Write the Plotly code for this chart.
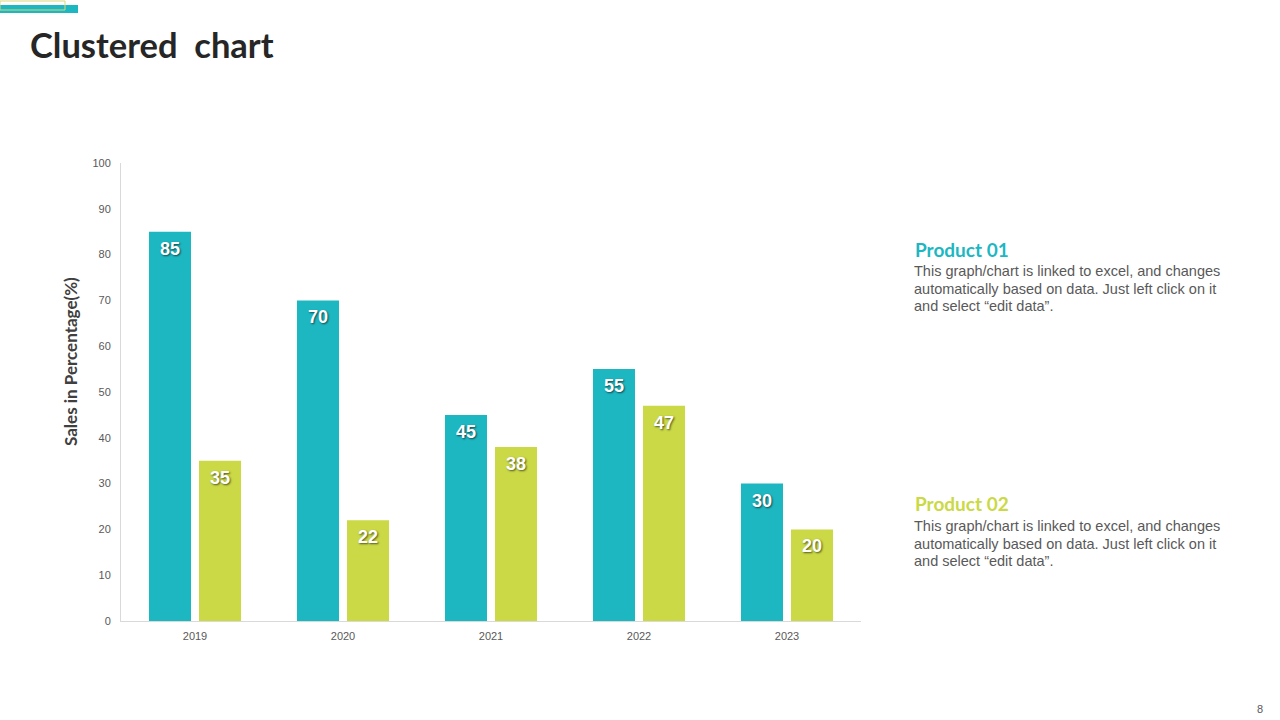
import plotly.graph_objects as go

years = ["2019", "2020", "2021", "2022", "2023"]
product_01 = [85, 70, 45, 55, 30]
product_02 = [35, 22, 38, 47, 20]
y_ticks = [0, 10, 20, 30, 40, 50, 60, 70, 80, 90, 100]
body_lines = ["This graph/chart is linked to excel, and changes",
              "automatically based on data. Just left click on it",
              "and select “edit data”."]

TEAL = "#1DB7C2"
LIME = "#CAD945"

L, R, T, B = 121, 861, 163, 621
W, H = 1280, 720

fig = go.Figure()
for name, vals, col in [("Product 01", product_01, TEAL), ("Product 02", product_02, LIME)]:
    fig.add_trace(go.Bar(
        x=years, y=vals, name=name, marker=dict(color=col, line=dict(width=0)),
        hoverinfo="x+y+name",
    ))

fig.update_layout(
    width=W, height=H, paper_bgcolor="white", plot_bgcolor="white",
    margin=dict(l=L, r=W - R, t=T, b=H - B, autoexpand=False),
    barmode="group", bargap=0.324, bargroupgap=0.16,
    showlegend=False,
    font=dict(family="Arial", color="#595959"),
)
fig.update_xaxes(type="category", range=[-0.5, len(years) - 0.5], showline=True,
                 linecolor="#D9D9D9", linewidth=1, ticks="",
                 tickfont=dict(size=11, color="#595959"), showgrid=False, zeroline=False,
                 ticklabelstandoff=5)
fig.update_yaxes(range=[0, 100], tickvals=y_ticks, showline=True, linecolor="#D9D9D9",
                 linewidth=1, ticks="", tickfont=dict(size=11, color="#595959"),
                 showgrid=False, zeroline=False, ticklabelstandoff=7)

# data labels, inside the top of each bar (x given as category index)
for vals, shift in [(product_01, -25), (product_02, 25)]:
    for i, v in enumerate(vals):
        fig.add_annotation(x=i, y=v, text=str(v), showarrow=False, xshift=shift, yshift=-17,
                           xanchor="center", yanchor="middle",
                           font=dict(family="Arial", size=18, color="white", weight="bold",
                                     shadow="1px 1px 2px rgba(0,0,0,0.6)"))

def px_x(x):
    return (x - L) / (R - L)

def px_y(y):
    return (B - y) / (B - T)

# y-axis title
fig.add_annotation(text="Sales in Percentage(%)", textangle=-90, xref="paper", yref="paper",
                   x=px_x(70), y=px_y(362), xanchor="center", yanchor="middle", showarrow=False,
                   font=dict(family="Lato", size=17, color="#404040", weight="bold"))

# page title
fig.add_annotation(text="Clustered  chart", xref="paper", yref="paper", x=px_x(28), y=px_y(45),
                   xanchor="left", yanchor="middle", showarrow=False,
                   font=dict(family="Lato", size=34.5, color="#262626", weight="bold"))

# decoration top-left
fig.add_shape(type="rect", xref="paper", yref="paper", x0=px_x(0), x1=px_x(78), y0=px_y(5), y1=px_y(13),
              fillcolor=TEAL, line=dict(width=0))
fig.add_shape(type="rect", xref="paper", yref="paper", x0=px_x(0), x1=px_x(65), y0=px_y(1), y1=px_y(10),
              fillcolor="rgba(0,0,0,0)", line=dict(color="#D8D77A", width=1))

for label, col, yh, yb in [("Product 01", TEAL, 249, 271), ("Product 02", LIME, 503, 526)]:
    fig.add_annotation(text=label, xref="paper", yref="paper", x=px_x(913), y=px_y(yh),
                       xanchor="left", yanchor="middle", showarrow=False,
                       font=dict(family="Lato", size=19, color=col, weight="bold"))
    for i, line in enumerate(body_lines):
        fig.add_annotation(text=line, xref="paper", yref="paper", x=px_x(912), y=px_y(yb + 17.5 * i),
                           xanchor="left", yanchor="middle", align="left", showarrow=False,
                           font=dict(family="Arial", size=14.5, color="#595959"))

fig.add_annotation(text="8", xref="paper", yref="paper", x=px_x(1260), y=px_y(709),
                   xanchor="center", yanchor="middle",
                   showarrow=False, font=dict(family="Arial", size=11, color="#595959"))

fig.write_html("out.html")
